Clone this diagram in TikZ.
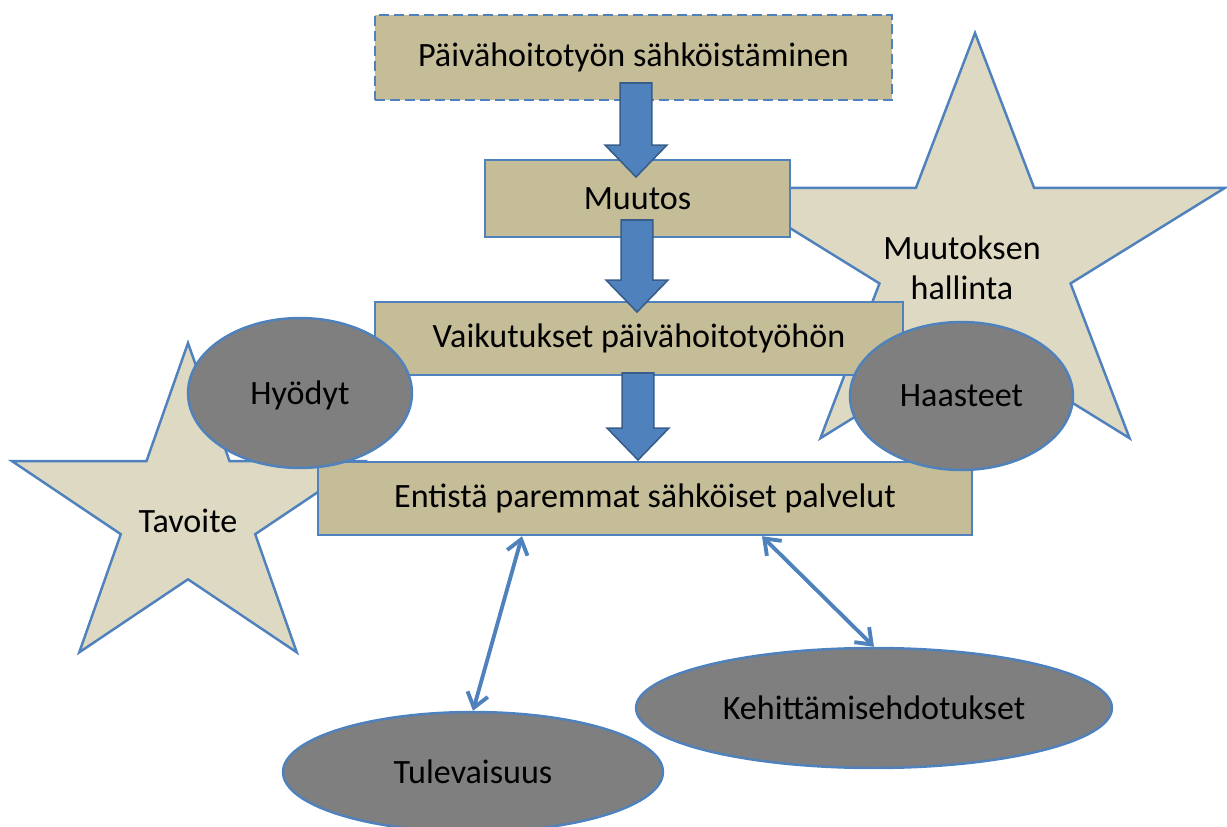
\documentclass[tikz,border=0pt]{standalone}
\usepackage{fontspec}
\setmainfont{Carlito}
\usetikzlibrary{shapes.geometric,arrows.meta,calc}
\definecolor{bord}{RGB}{79,129,189}
\definecolor{boxfill}{RGB}{196,189,151}
\definecolor{starfill}{RGB}{221,217,195}
\definecolor{ellfill}{RGB}{127,127,127}
\definecolor{arrbord}{RGB}{56,93,138}
\tikzset{
  boxsty/.style={draw=bord, fill=boxfill, line width=1.4pt, inner sep=0pt, rectangle},
  ellsty/.style={draw=bord, fill=ellfill, line width=1.4pt, inner sep=0pt, ellipse},
  starsty/.style={draw=bord, fill=starfill, line width=1.4pt, line join=miter},
  barrow/.style={draw=arrbord, fill=bord, line width=0.9pt},
  dblarrow/.style={draw=bord, line width=2.2pt, {Straight Barb[length=8pt,width=12pt]}-{Straight Barb[length=8pt,width=12pt]}},
}
\newcommand\blockarr[2]{\draw[barrow] let \p1=#1, \p2=#2 in
  (\x1-9.07pt,\y1) -- (\x1+9.07pt,\y1) -- (\x1+9.07pt,\y2+18.14pt) -- (\x1+17.57pt,\y2+18.14pt)
  -- (\x1,\y2) -- (\x1-17.57pt,\y2+18.14pt) -- (\x1-9.07pt,\y2+18.14pt) -- cycle;}
\begin{document}
\begin{tikzpicture}[x=0.02cm,y=-0.02cm,font=\fontsize{19.4}{22.7}\selectfont]
\useasboundingbox (0,0) rectangle (1227,827);
% stars
\draw[starsty] plot[samples at={0,...,9}, variable=\k]
  ({975+(1-0.618*mod(\k,2))*263*cos(90+36*\k)}, {257-(1-0.618*mod(\k,2))*224*sin(90+36*\k)}) -- cycle;
\draw[starsty] plot[samples at={0,...,9}, variable=\k]
  ({188+(1-0.618*mod(\k,2))*185*cos(90+36*\k)}, {514-(1-0.618*mod(\k,2))*171*sin(90+36*\k)}) -- cycle;
\node[align=center] (hall) at (962,268) {Muutoksen\\hallinta};
\node (tav) at (188,521) {Tavoite};
% boxes
\node[boxsty, dashed, dash pattern=on 5.7pt off 2.8pt, minimum width=10.34cm, minimum height=1.7cm] (b1) at (633.5,57.5) {Päivähoitotyön sähköistäminen};
\node[boxsty, minimum width=6.1cm, minimum height=1.54cm] (b2) at (637.5,198.5) {Muutos};
\node[boxsty, minimum width=10.56cm, minimum height=1.46cm] (b3) at (639,338.5) {Vaikutukset päivähoitotyöhön};
\node[boxsty, minimum width=13.08cm, minimum height=1.46cm] (b4) at (645,498.5) {Entistä paremmat sähköiset palvelut};
% ellipses
\node[ellsty, text depth=0pt, minimum width=4.48cm, minimum height=3.0cm] (e1) at (300,393) {Hyödyt};
\node[ellsty, minimum width=4.46cm, minimum height=2.96cm] (e2) at (961.5,396) {Haasteet};
\node[ellsty, minimum width=9.52cm, minimum height=2.4cm] (e3) at (874,708) {Kehittämisehdotukset};
\node[ellsty, minimum width=7.6cm, minimum height=2.4cm] (e4) at (473,772) {Tulevaisuus};
% block arrows
\coordinate (a1s) at (636,83);  \coordinate (a1e) at (636,177);
\coordinate (a2s) at (637,220); \coordinate (a2e) at (637,312);
\coordinate (a3s) at (638,373); \coordinate (a3e) at (638,460);
\blockarr{(a1s)}{(a1e)}
\blockarr{(a2s)}{(a2e)}
\blockarr{(a3s)}{(a3e)}
% double arrows
\draw[dblarrow] ($(b4.south)+(-123,0)$) -- (e4.north);
\draw[dblarrow] ($(b4.south)+(117,0)$) -- (e3.north);
\end{tikzpicture}
\end{document}
